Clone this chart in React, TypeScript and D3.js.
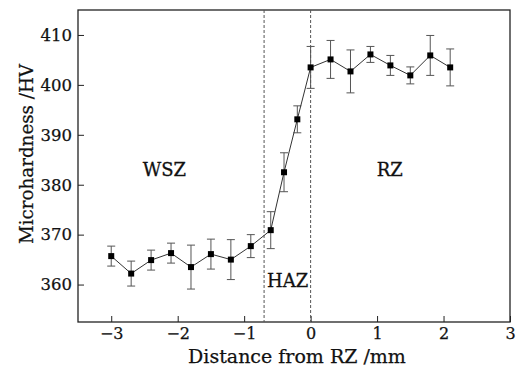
import { useEffect, useRef } from 'react';
import * as d3 from 'd3';

const distances = [-3, -2.7, -2.4, -2.1, -1.8, -1.5, -1.2, -0.9, -0.6, -0.4, -0.2, 0, 0.3, 0.6, 0.9, 1.2, 1.5, 1.8, 2.1];
const hardness = [365.7, 362.2, 364.9, 366.3, 363.5, 366.1, 365.0, 367.7, 370.9, 382.5, 393.1, 403.5, 405.1, 402.7, 406.1, 403.9, 401.9, 405.9, 403.5];
const errors = [2.0, 2.5, 2.0, 2.0, 4.4, 3.0, 4.0, 2.3, 3.7, 3.9, 2.7, 4.2, 3.8, 4.3, 1.6, 2.0, 1.7, 4.0, 3.7];
const xTicks = [-3, -2, -1, 0, 1, 2, 3];
const yTicks = [360, 370, 380, 390, 400, 410];
const boundaries = [-0.7, 0];
const zones = [
  { label: 'WSZ', x: -2.2, y: 383.1 },
  { label: 'RZ', x: 1.19, y: 383.1 },
];

const App = () => {
  const svgRef = useRef<SVGSVGElement>(null);

  useEffect(() => {
    const svg = d3.select(svgRef.current);
    svg.selectAll('*').remove();

    const W = 521;
    const H = 367;
    const margin = { top: 10, right: 11, bottom: 45, left: 78 };
    const width = W - margin.left - margin.right;
    const height = H - margin.top - margin.bottom;
    const font = '"DejaVu Serif", serif';

    svg.attr('width', W).attr('height', H);
    const g = svg.append('g').attr('transform', `translate(${margin.left},${margin.top})`);

    const x = d3.scaleLinear().domain([-3.5, 3]).range([0, width]);
    const y = d3.scaleLinear().domain([352.5, 415]).range([height, 0]);

    const data = distances.map((d, i) => ({ x: d, y: hardness[i], e: errors[i] }));

    // frame
    g.append('rect')
      .attr('width', width)
      .attr('height', height)
      .attr('fill', 'none')
      .attr('stroke', '#222')
      .attr('stroke-width', 1.3);

    // axes with inward ticks
    const xAxis = g.append('g')
      .attr('transform', `translate(0,${height})`)
      .call(d3.axisBottom(x).tickValues(xTicks).tickSizeInner(-6).tickSizeOuter(0).tickPadding(6)
        .tickFormat(d => (d as number) < 0 ? `\u2212${Math.abs(d as number)}` : `${d}`));
    xAxis.select('.domain').remove();
    xAxis.selectAll('line').attr('stroke', '#222');
    xAxis.selectAll('text').attr('font-family', font).attr('font-size', 16).attr('fill', '#111')
      .attr('stroke', '#111').attr('stroke-width', 0.25);

    const yAxis = g.append('g')
      .call(d3.axisLeft(y).tickValues(yTicks).tickSizeInner(-6).tickSizeOuter(0).tickPadding(6));
    yAxis.select('.domain').remove();
    yAxis.selectAll('line').attr('stroke', '#222');
    yAxis.selectAll('text').attr('font-family', font).attr('font-size', 16.5).attr('fill', '#111')
      .attr('stroke', '#111').attr('stroke-width', 0.25);

    // boundaries
    g.selectAll('.bound')
      .data(boundaries)
      .enter()
      .append('line')
      .attr('x1', d => x(d))
      .attr('x2', d => x(d))
      .attr('y1', 0)
      .attr('y2', height)
      .attr('stroke', '#555')
      .attr('stroke-width', 1)
      .attr('stroke-dasharray', '3,2');

    // error bars
    const eb = g.selectAll('.eb').data(data).enter().append('g').attr('stroke', '#555').attr('stroke-width', 1);
    eb.append('line')
      .attr('x1', d => x(d.x)).attr('x2', d => x(d.x))
      .attr('y1', d => y(d.y - d.e)).attr('y2', d => y(d.y + d.e));
    eb.append('line')
      .attr('x1', d => x(d.x) - 4).attr('x2', d => x(d.x) + 4)
      .attr('y1', d => y(d.y - d.e)).attr('y2', d => y(d.y - d.e));
    eb.append('line')
      .attr('x1', d => x(d.x) - 4).attr('x2', d => x(d.x) + 4)
      .attr('y1', d => y(d.y + d.e)).attr('y2', d => y(d.y + d.e));

    // line
    const line = d3.line<{ x: number; y: number }>().x(d => x(d.x)).y(d => y(d.y));
    g.append('path')
      .datum(data)
      .attr('d', line)
      .attr('fill', 'none')
      .attr('stroke', '#333')
      .attr('stroke-width', 1);

    // markers
    g.selectAll('.pt')
      .data(data)
      .enter()
      .append('rect')
      .attr('x', d => x(d.x) - 3)
      .attr('y', d => y(d.y) - 3)
      .attr('width', 6)
      .attr('height', 6)
      .attr('fill', '#000');

    // zone labels
    g.selectAll('.zone')
      .data(zones)
      .enter()
      .append('text')
      .attr('x', d => x(d.x))
      .attr('y', d => y(d.y))
      .attr('text-anchor', 'middle')
      .attr('dominant-baseline', 'central')
      .attr('font-family', font)
      .attr('font-size', 18)
      .attr('fill', '#111')
      .attr('stroke', '#111')
      .attr('stroke-width', 0.3)
      .text(d => d.label);

    g.append('text')
      .attr('x', x(-0.7) + 3)
      .attr('y', y(360.8))
      .attr('dominant-baseline', 'central')
      .attr('font-family', font)
      .attr('font-size', 18)
      .attr('fill', '#111')
      .attr('stroke', '#111')
      .attr('stroke-width', 0.3)
      .text('HAZ');

    // axis titles
    g.append('text')
      .attr('x', width / 2 + 3)
      .attr('y', height + 41)
      .attr('text-anchor', 'middle')
      .attr('font-family', font)
      .attr('font-size', 19)
      .attr('fill', '#111')
      .attr('stroke', '#111')
      .attr('stroke-width', 0.25)
      .text('Distance from RZ /mm');

    g.append('text')
      .attr('transform', `translate(${-45},${144}) rotate(-90)`)
      .attr('text-anchor', 'middle')
      .attr('font-family', font)
      .attr('font-size', 18.3)
      .attr('fill', '#111')
      .attr('stroke', '#111')
      .attr('stroke-width', 0.25)
      .text('Microhardness /HV');
  }, []);

  return <svg ref={svgRef} style={{ position: 'absolute', left: 0, top: 0 }}></svg>;
};

export default App;
